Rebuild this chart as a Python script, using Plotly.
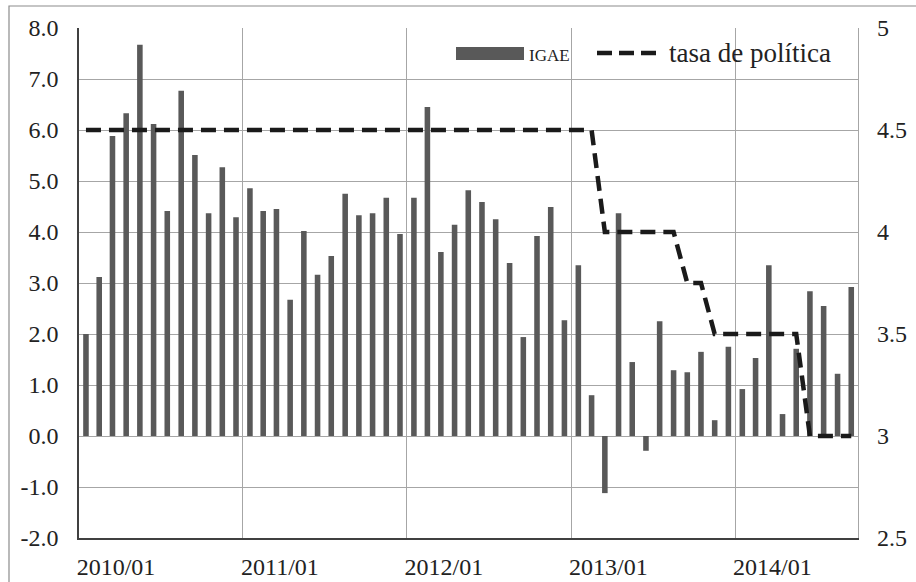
import plotly.graph_objects as go

months = [f"{y}/{m:02d}" for y in range(2010, 2015) for m in range(1, 13)][:57]

igae = [2.0, 3.12, 5.88, 6.33, 7.67, 6.12, 4.41, 6.77, 5.51, 4.37, 5.27, 4.29,
        4.86, 4.41, 4.45, 2.67, 4.02, 3.16, 3.53, 4.75, 4.33, 4.37, 4.67, 3.96,
        4.67, 6.45, 3.61, 4.14, 4.82, 4.59, 4.25, 3.39, 1.94, 3.92, 4.49, 2.27,
        3.35, 0.80, -1.12, 4.37, 1.45, -0.29, 2.25, 1.29, 1.25, 1.65, 0.31, 1.75,
        0.92, 1.53, 3.35, 0.43, 1.71, 2.84, 2.55, 1.22, 2.92]

tasa = [4.5] * 38 + [4.0] * 6 + [3.75] * 2 + [3.5] * 7 + [3.0] * 4

year_ticks = ["2010/01", "2011/01", "2012/01", "2013/01", "2014/01"]
left_ticks = [8, 7, 6, 5, 4, 3, 2, 1, 0, -1, -2]
right_ticks = [5, 4.5, 4, 3.5, 3, 2.5]

dates = [m.replace("/", "-") for m in months]
year_dates = [m.replace("/", "-") for m in year_ticks]

FONT = "Liberation Serif, Times New Roman, serif"
TXT = "#222222"
GRID = "#a6a6a6"
TICKFONT = dict(family=FONT, size=24, color=TXT)

fig = go.Figure()
fig.add_trace(go.Bar(x=dates, y=igae, name="IGAE", xperiod="M1", xperiodalignment="middle",
                     marker=dict(color="#595959", line=dict(width=0)), showlegend=False))
fig.add_trace(go.Scatter(x=dates, y=tasa, name="tasa de política", yaxis="y2", mode="lines",
                         xperiod="M1", xperiodalignment="middle",
                         line=dict(color="#1a1a1a", width=4.5, dash="15px,8px"), showlegend=False))

L, R, T, B = 79, 58, 28, 44
W, H = 916, 582
pw, ph = W - L - R, H - T - B

def px(x):
    return (x - L) / pw

def py(y):
    return (H - B - y) / ph

shapes = [
    dict(type="rect", xref="paper", yref="paper", x0=px(9), x1=px(1000), y0=py(650), y1=py(6),
         line=dict(color="#8c8c8c", width=1.2), fillcolor="rgba(0,0,0,0)", layer="below"),
    dict(type="rect", xref="paper", yref="paper", x0=px(456), x1=px(524), y0=py(60), y1=py(47),
         line=dict(width=0), fillcolor="#595959"),
    dict(type="line", xref="paper", yref="paper", x0=px(597), x1=px(657), y0=py(53), y1=py(53),
         line=dict(color="#1a1a1a", width=4.5, dash="15px,7px")),
]

annotations = [
    dict(text="IGAE", xref="paper", yref="paper", x=px(527), y=py(55), xanchor="left", yanchor="middle",
         showarrow=False, font=dict(family=FONT, size=17, color=TXT)),
    dict(text="tasa de política", xref="paper", yref="paper", x=px(667), y=py(53), xanchor="left",
         yanchor="middle", showarrow=False, font=dict(family=FONT, size=27, color=TXT)),
]

fig.update_layout(
    width=W, height=H,
    margin=dict(l=L, r=R, t=T, b=B, pad=0),
    paper_bgcolor="white", plot_bgcolor="white",
    font=dict(family=FONT, size=24, color=TXT),
    bargap=0.58,
    shapes=shapes, annotations=annotations,
    xaxis=dict(type="date", range=["2010-01-01", "2014-10-01"], tickmode="array",
               tickvals=year_dates, ticktext=year_ticks, ticks="", showgrid=True,
               gridcolor=GRID, gridwidth=1.2, showline=True, linecolor="#404040", linewidth=1.5,
               ticklabelshift=37, ticklabelstandoff=6, tickangle=0, tickfont=TICKFONT,
               automargin=False),
    yaxis=dict(range=[-2, 8], tickmode="array", tickvals=left_ticks,
               ticktext=[f"{v:.1f}" for v in left_ticks], showgrid=True, gridcolor=GRID,
               gridwidth=1.2, zeroline=False, showline=True, linecolor="#404040", linewidth=1.5,
               ticks="", ticklabelstandoff=14, tickfont=TICKFONT, automargin=False),
    yaxis2=dict(range=[2.5, 5], overlaying="y", side="right", tickmode="array",
                tickvals=right_ticks, ticktext=[f"{v:g}" for v in right_ticks], showgrid=False,
                zeroline=False, showline=True, linecolor=GRID, linewidth=1.2, ticks="",
                ticklabelstandoff=13, tickfont=TICKFONT, automargin=False),
)

fig.write_html("out.html", config={"displayModeBar": False},
               post_script="document.body.style.margin='0';document.body.style.overflow='hidden';")
